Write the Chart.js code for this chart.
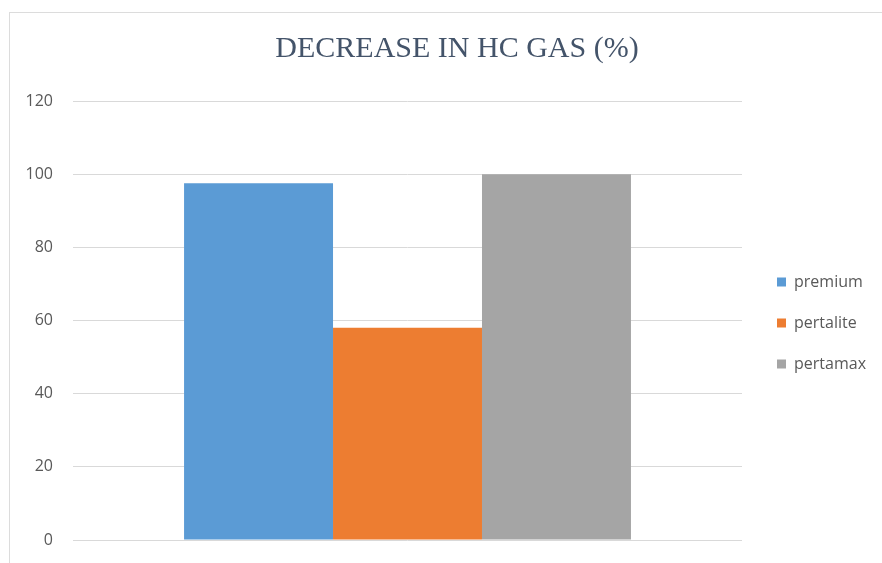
<!DOCTYPE html>
<html>
<head>
<meta charset="utf-8">
<script src="https://cdn.jsdelivr.net/npm/chart.js@4"></script>
<style>
  html, body { margin: 0; padding: 0; background: #fff; }
  #wrap { position: relative; width: 882px; height: 563px; }
  #frame { position: absolute; left: 9px; top: 12px; right: -2px; bottom: -2px;
           border-left: 1px solid #dcdcdc; border-top: 1px solid #dcdcdc; }
  canvas { position: absolute; left: 0; top: 0; }
</style>
</head>
<body>
<div id="wrap">
  <div id="frame"></div>
  <canvas id="hcChart" width="882" height="563"></canvas>
</div>
<script>
// data
const categories = [''];
const seriesNames = ['premium', 'pertalite', 'pertamax'];
const premiumVals = [97.5];
const pertaliteVals = [58];
const pertamaxVals = [100];
const yTicks = [0, 20, 40, 60, 80, 100, 120];

const colors = ['#5b9bd5', '#ed7d31', '#a5a5a5'];
const allVals = [premiumVals, pertaliteVals, pertamaxVals];

const hcData = {
  labels: categories,
  datasets: seriesNames.map((name, i) => ({
    label: name,
    data: allVals[i],
    backgroundColor: colors[i],
    borderWidth: 0,
    categoryPercentage: 0.668,
    barPercentage: 1.0
  }))
};

// nudge title right and legend down, like the excel chart
const nudgeBoxes = {
  id: 'nudgeBoxes',
  afterLayout(chart) {
    const t = chart.titleBlock;
    t.left += 19;
    t.right += 19;
    const l = chart.legend;
    l.top += 53;
    l.bottom += 53;
  }
};

const hcConfig = {
  type: 'bar',
  data: hcData,
  plugins: [nudgeBoxes],
  options: {
    responsive: false,
    animation: false,
    layout: { padding: { left: 0, right: 6, top: 0, bottom: 23 } },
    plugins: {
      title: {
        display: true,
        text: 'DECREASE IN HC GAS (%)',
        color: '#44546a',
        font: { family: 'Liberation Serif', size: 30, weight: 'normal' },
        padding: { top: 31, bottom: 34 }
      },
      legend: {
        position: 'right',
        labels: {
          boxWidth: 9,
          boxHeight: 9,
          padding: 25,
          color: '#595959',
          font: { family: 'Open Sans', size: 16 }
        }
      },
      tooltip: { enabled: false }
    },
    scales: {
      x: { display: false },
      y: {
        min: 0,
        max: 120,
        afterBuildTicks: s => { s.ticks = yTicks.map(v => ({ value: v })); },
        afterFit: s => {
          s.width = 73;
          s.paddingTop = 0;
          s.paddingBottom = 0;
        },
        ticks: {
          padding: 20,
          color: '#595959',
          font: { family: 'Open Sans', size: 16 }
        },
        grid: { color: '#d9d9d9', lineWidth: 1, drawTicks: false },
        border: { display: false }
      },
      yR: {
        position: 'right',
        afterFit: s => { s.width = 10; },
        ticks: { display: false },
        grid: { display: false },
        border: { display: false }
      }
    }
  }
};

const hcChart = new Chart(document.getElementById('hcChart'), hcConfig);
</script>
</body>
</html>
